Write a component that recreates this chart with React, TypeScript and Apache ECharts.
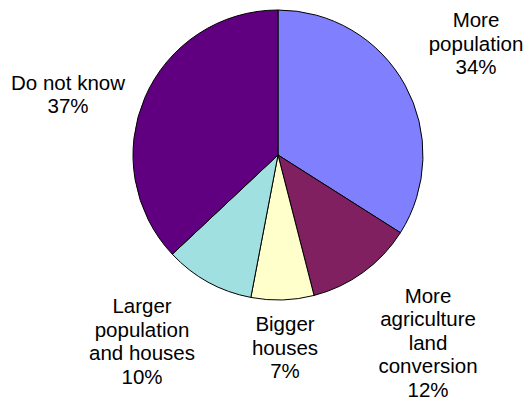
import React, { useEffect, useRef } from "react";
import * as echarts from "echarts";

const categories = [
  "More\npopulation",
  "More\nagriculture\nland\nconversion",
  "Bigger\nhouses",
  "Larger\npopulation\nand houses",
  "Do not know",
];
const values = [34, 12, 7, 10, 37];
const colors = ["#8080FF", "#802060", "#FFFFCC", "#A0E0E0", "#600080"];
const labelPositions = [
  [476, 43],
  [428, 342],
  [285, 347],
  [142, 341],
  [68, 94],
];

export default function App() {
  const ref = useRef<HTMLDivElement>(null);
  useEffect(() => {
    document.body.style.margin = "0";
    const chart = echarts.init(ref.current!, null, { renderer: "svg" });
    chart.setOption({
      animation: false,
      backgroundColor: "#ffffff",
      series: [
        {
          type: "pie",
          center: [278, 155],
          radius: 145,
          startAngle: 90,
          clockwise: true,
          avoidLabelOverlap: false,
          data: categories.map((c, i) => ({
            name: c,
            value: values[i],
            itemStyle: { color: colors[i] },
          })),
          itemStyle: { borderColor: "#000000", borderWidth: 1 },
          label: {
            show: true,
            position: "outside",
            formatter: (p: any) => `${p.name}\n${p.value}%`,
            fontFamily: "Liberation Sans, Arial, sans-serif",
            fontSize: 20.5,
            lineHeight: 23.5,
            color: "#000000",
            align: "center",
          },
          labelLine: { show: false },
          labelLayout: (params: any) => ({
            x: labelPositions[params.dataIndex][0],
            y: labelPositions[params.dataIndex][1],
            align: "center",
            verticalAlign: "middle",
          }),
          emphasis: { disabled: true },
        },
      ],
    });
    return () => chart.dispose();
  }, []);
  return (
    <div
      ref={ref}
      style={{ position: "absolute", left: 0, top: 0, width: 525, height: 406 }}
    />
  );
}
